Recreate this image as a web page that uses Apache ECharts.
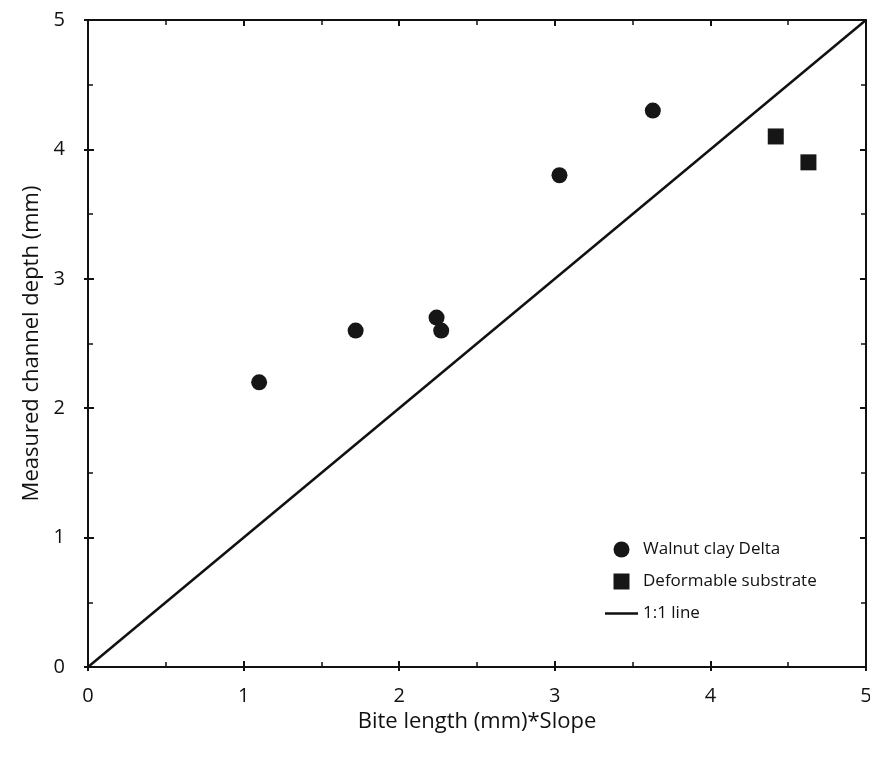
<!DOCTYPE html>
<html><head><meta charset="utf-8">
<script src="https://cdn.jsdelivr.net/npm/echarts@6/dist/echarts.min.js"></script>
<style>html,body{margin:0;padding:0;background:#fff}#c{width:870px;height:757px}</style>
</head><body><div id="c"></div>
<script>
const walnutX = [1.10, 1.72, 2.24, 2.27, 3.03, 3.63];
const walnutY = [2.20, 2.60, 2.70, 2.60, 3.80, 4.30];
const deformX = [4.42, 4.63];
const deformY = [4.10, 3.90];
const lineX = [0, 5];
const lineY = [0, 5];
const xTicks = [0, 1, 2, 3, 4, 5];
const yTicks = [0, 1, 2, 3, 4, 5];

const FONT = 'Open Sans';
const chart = echarts.init(document.getElementById('c'));
const grid = {left: 88, right: 4, top: 20, bottom: 90, outerBoundsMode: 'none', containLabel: false};
function axis(type, pos, opts) {
  const base = {
    type: 'value', min: 0, max: 5, interval: 1, position: pos,
    axisLine: {show: true, onZero: false, lineStyle: {color: '#111', width: 2}},
    axisTick: {show: true, inside: true, length: 6, lineStyle: {color: '#111', width: 2}},
    minorTick: {show: true, splitNumber: 2, length: 5, lineStyle: {color: '#111', width: 1.5}},
    axisLabel: {show: false},
    splitLine: {show: false}
  };
  return Object.assign(base, opts || {});
}
const outTick = {show: true, inside: false, length: 4, lineStyle: {color: '#111', width: 2}};
const option = {
  animation: false,
  backgroundColor: '#fff',
  grid: grid,
  legend: {
    orient: 'vertical', left: 600, top: 536, itemWidth: 33, itemHeight: 16, itemGap: 15,
    symbolKeepAspect: true,
    textStyle: {fontFamily: FONT, fontSize: 17, fontWeight: 500, color: '#111'},
    data: [
      {name: 'Walnut clay Delta', icon: 'circle'},
      {name: 'Deformable substrate', icon: 'path://M0,0H16V16H0Z'},
      {name: '1:1 line', icon: 'path://M0,0H33V2.5H0Z'}
    ]
  },
  xAxis: [
    axis('x', 'bottom', {
      name: 'Bite length (mm)*Slope', nameLocation: 'middle', nameGap: 40,
      nameTextStyle: {fontFamily: FONT, fontSize: 22, color: '#111'},
      axisLabel: {show: true, fontFamily: FONT, fontSize: 20, color: '#111', margin: 19,
        formatter: v => xTicks.includes(v) ? String(v) : ''}
    }),
    axis('x', 'bottom', {axisLine: {show: false}, axisTick: outTick, minorTick: {show: false}}),
    axis('x', 'top'),
    axis('x', 'top', {axisLine: {show: false}, axisTick: outTick, minorTick: {show: false}})
  ],
  yAxis: [
    axis('y', 'left', {
      name: 'Measured channel depth (mm)', nameLocation: 'middle', nameGap: 42,
      nameTextStyle: {fontFamily: FONT, fontSize: 22, color: '#111'},
      axisLabel: {show: true, fontFamily: FONT, fontSize: 20, color: '#111', margin: 23,
        formatter: v => yTicks.includes(v) ? String(v) : ''}
    }),
    axis('y', 'left', {axisLine: {show: false}, axisTick: outTick, minorTick: {show: false}}),
    axis('y', 'right'),
    axis('y', 'right', {axisLine: {show: false}, axisTick: outTick, minorTick: {show: false}})
  ],
  series: [
    {name: '1:1 line', type: 'line', symbol: 'none', data: lineX.map((x, i) => [x, lineY[i]]),
      lineStyle: {color: '#111', width: 2.5}, itemStyle: {color: '#111'}, z: 2},
    {name: 'Walnut clay Delta', type: 'scatter', symbol: 'circle', symbolSize: 16,
      data: walnutX.map((x, i) => [x, walnutY[i]]), itemStyle: {color: '#161616', opacity: 1}, z: 3},
    {name: 'Deformable substrate', type: 'scatter', symbol: 'rect', symbolSize: 16,
      data: deformX.map((x, i) => [x, deformY[i]]), itemStyle: {color: '#161616', opacity: 1}, z: 3}
  ]
};
chart.setOption(option);
</script>
</body></html>
